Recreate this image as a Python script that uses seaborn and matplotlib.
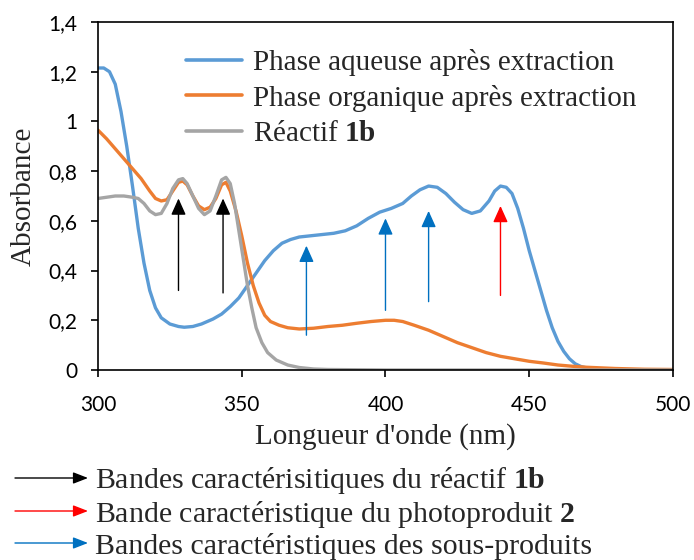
import pandas as pd
import matplotlib
matplotlib.use('Agg')
import matplotlib.pyplot as plt
import seaborn as sns

# Spectres UV-visible
wl_aq = [300, 302, 304, 306, 308, 310, 312, 314, 316, 318, 320, 322, 325, 328, 330, 333, 336, 340, 343,
         346, 349, 352, 355, 358, 361, 364, 367, 370, 374, 378, 382, 386, 390, 394, 398, 402, 406, 409,
         412, 415, 418, 421, 424, 427, 430, 433, 436, 438, 440, 442, 444, 446, 448, 450, 452, 454, 456,
         458, 460, 462, 464, 466, 468, 470, 475, 480, 500]
abs_aq = [1.215, 1.215, 1.20, 1.15, 1.04, 0.90, 0.74, 0.57, 0.43, 0.32, 0.25, 0.21, 0.185, 0.175, 0.172,
          0.175, 0.185, 0.205, 0.225, 0.255, 0.29, 0.34, 0.39, 0.44, 0.48, 0.51, 0.525, 0.535, 0.54, 0.545,
          0.55, 0.56, 0.58, 0.61, 0.635, 0.65, 0.67, 0.70, 0.725, 0.74, 0.735, 0.71, 0.675, 0.645, 0.63,
          0.64, 0.68, 0.72, 0.74, 0.735, 0.71, 0.65, 0.57, 0.48, 0.40, 0.32, 0.24, 0.17, 0.115, 0.075,
          0.045, 0.025, 0.014, 0.008, 0.003, 0.001, 0.0]

wl_org = [300, 303, 306, 309, 312, 315, 318, 320, 322, 324, 326, 328, 329.5, 331, 333, 335, 337, 339, 341,
          343, 344.5, 346, 348, 350, 352, 354, 356, 358, 360, 363, 366, 370, 375, 380, 385, 390, 395, 400,
          403, 406, 410, 415, 420, 425, 430, 435, 440, 445, 450, 455, 460, 465, 470, 480, 490, 500]
abs_org = [0.965, 0.93, 0.89, 0.85, 0.81, 0.77, 0.72, 0.69, 0.68, 0.685, 0.72, 0.755, 0.76, 0.745, 0.70,
           0.66, 0.645, 0.655, 0.69, 0.745, 0.755, 0.72, 0.64, 0.54, 0.43, 0.34, 0.27, 0.22, 0.195, 0.18,
           0.17, 0.165, 0.168, 0.175, 0.18, 0.188, 0.195, 0.2, 0.2, 0.195, 0.18, 0.16, 0.135, 0.11, 0.09,
           0.07, 0.055, 0.045, 0.035, 0.028, 0.02, 0.015, 0.011, 0.006, 0.003, 0.002]

wl_reac = [300, 303, 306, 309, 312, 314, 316, 318, 320, 322, 324, 326, 328, 329.5, 331, 333, 335, 337, 339,
           341, 343, 344.5, 346, 347.5, 349, 350.5, 352, 353.5, 355, 357, 359, 362, 366, 370, 375, 380,
           400, 500]
abs_reac = [0.69, 0.695, 0.70, 0.70, 0.695, 0.69, 0.67, 0.64, 0.625, 0.63, 0.67, 0.73, 0.765, 0.77, 0.75,
            0.70, 0.65, 0.625, 0.64, 0.70, 0.765, 0.775, 0.75, 0.67, 0.56, 0.45, 0.34, 0.25, 0.17, 0.11,
            0.07, 0.04, 0.02, 0.01, 0.004, 0.002, 0.0, 0.0]

series = ['Phase aqueuse après extraction', 'Phase organique après extraction', 'Réactif 1b']
colors = ['#5B9BD5', '#ED7D31', '#A5A5A5']

# fleches (bandes)
arrow_x = [328, 343.5, 372.5, 400, 415, 440]
arrow_y0 = [0.32, 0.31, 0.14, 0.24, 0.275, 0.30]
arrow_y1 = [0.69, 0.69, 0.50, 0.61, 0.64, 0.66]
arrow_col = ['black', 'black', '#0070C0', '#0070C0', '#0070C0', '#FF0000']

notes = ['Bandes caractérisitiques du réactif $\\mathbf{1b}$',
         'Bande caractéristique du photoproduit $\\mathbf{2}$',
         'Bandes caractéristiques des sous-produits']
note_col = ['black', '#FF0000', '#0070C0']

df = pd.concat([
    pd.DataFrame({'wl': wl_aq, 'A': abs_aq, 'serie': series[0]}),
    pd.DataFrame({'wl': wl_org, 'A': abs_org, 'serie': series[1]}),
    pd.DataFrame({'wl': wl_reac, 'A': abs_reac, 'serie': series[2]}),
])

sns.set_style('ticks')
plt.rcParams['font.family'] = ['Liberation Serif', 'DejaVu Serif']
plt.rcParams['mathtext.fontset'] = 'custom'
plt.rcParams['mathtext.bf'] = 'Liberation Serif:bold'
plt.rcParams['mathtext.rm'] = 'Liberation Serif'

fig = plt.figure(figsize=(6.94, 5.6), dpi=100)
ax = fig.add_axes([0.1412, 0.3393, 0.8285, 0.6214])

sns.lineplot(data=df, x='wl', y='A', hue='serie', hue_order=series, palette=colors,
             linewidth=2.4, sort=False, estimator=None, ax=ax, legend=False)

for x, y0, y1, c in zip(arrow_x, arrow_y0, arrow_y1, arrow_col):
    ax.annotate('', xy=(x, y1), xytext=(x, y0),
                arrowprops=dict(arrowstyle='-|>,head_length=1.0,head_width=0.45', color=c, lw=1.0,
                                shrinkA=0, shrinkB=0))

ax.set_xlim(300, 500)
ax.set_ylim(0, 1.4)
ax.set_xticks([300, 350, 400, 450, 500])
yt = [0, 0.2, 0.4, 0.6, 0.8, 1.0, 1.2, 1.4]
ax.set_yticks(yt)
ax.set_yticklabels(['0', '0,2', '0,4', '0,6', '0,8', '1', '1,2', '1,4'])
ax.tick_params(labelsize=15, length=5, width=1.2, colors='black')
ax.tick_params(axis='y', pad=10)
ax.tick_params(axis='x', pad=13)
for lab in ax.get_xticklabels() + ax.get_yticklabels():
    lab.set_family(['Lato', 'DejaVu Sans'])
for s in ax.spines.values():
    s.set_linewidth(1.2)
    s.set_color('black')
ax.set_xlabel("Longueur d'onde (nm)", fontsize=21, labelpad=6)
ax.set_ylabel('Absorbance', fontsize=21, labelpad=8)

handles = [plt.Line2D([], [], color=c, lw=2.6) for c in colors]
labels = ['Phase aqueuse après extraction', 'Phase organique après extraction',
          'Réactif $\\mathbf{1b}$']
ax.legend(handles, labels, loc='upper left', bbox_to_anchor=(0.108, 0.998), frameon=False,
          fontsize=21, handlelength=1.9, handletextpad=0.4, labelspacing=0.3)

# legende des fleches sous le graphique
ys = [478, 511, 543]
for y, t, c in zip(ys, notes, note_col):
    yf = 1 - y / 560
    ax.annotate('', xy=(88 / 694, yf), xytext=(15 / 694, yf), xycoords='figure fraction',
                textcoords='figure fraction',
                arrowprops=dict(arrowstyle='-|>,head_length=0.9,head_width=0.35', color=c, lw=1.0,
                                shrinkA=0, shrinkB=0), annotation_clip=False)
    fig.text(95 / 694, yf - 3 / 560, t, fontsize=21.5, va='center', ha='left')

fig.savefig('out.png', dpi=100)
